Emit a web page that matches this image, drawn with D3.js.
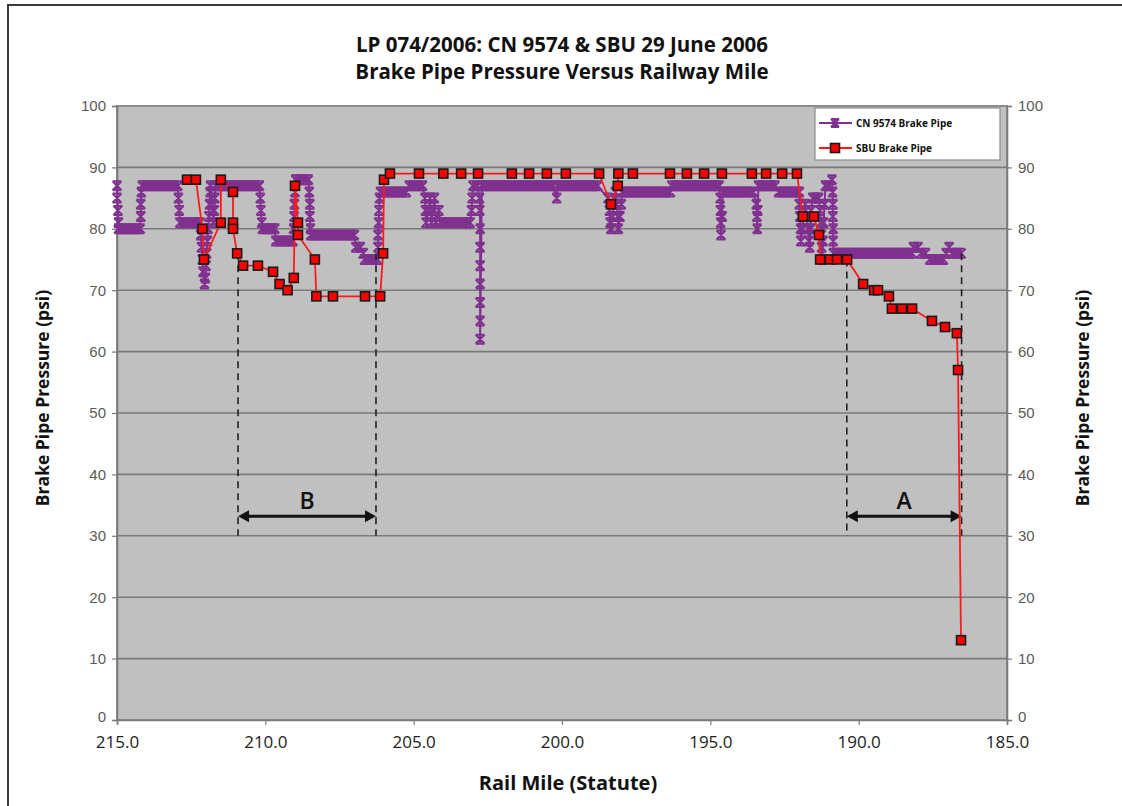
<!DOCTYPE html>
<html>
<head>
<meta charset="utf-8">
<script src="https://cdn.jsdelivr.net/npm/d3@7/dist/d3.min.js"></script>
<style>
  html, body { margin: 0; padding: 0; background: #fff; }
  svg { display: block; }
  .ytick text { font-family: "Liberation Sans", Arial, sans-serif; font-size: 15px; fill: #5a5a5a; }
  .xtick text { font-family: "Open Sans", sans-serif; font-size: 17px; fill: #222; }
  .ttl { font-family: "Open Sans", sans-serif; font-weight: bold; fill: #111; }
</style>
</head>
<body>
<svg id="chart" width="1122" height="806"></svg>
<script>
(function(){
  var titleLines = ['LP 074/2006: CN 9574 & SBU 29 June 2006', 'Brake Pipe Pressure Versus Railway Mile'];
  var xTicks = [215, 210, 205, 200, 195, 190, 185];
  var yTicks = [0, 10, 20, 30, 40, 50, 60, 70, 80, 90, 100];
  var seriesNames = ['CN 9574 Brake Pipe', 'SBU Brake Pipe'];

  // SBU brake pipe readings [mile, psi]
  var sbu = [
    [212.64,88],[212.34,88],[212.12,80],[212.07,75],[211.5,81],[211.5,88],[211.09,86],[211.09,81],
    [211.09,80],[210.95,76],[210.75,74],[210.25,74],[209.74,73],[209.52,71],[209.25,70],[209.04,72],
    [209.0,87],[208.9,81],[208.9,79],[208.33,75],[208.28,69],[207.72,69],[206.64,69],[206.13,69],
    [206.03,76],[206.0,88],[205.8,89],[204.82,89],[204.0,89],[203.4,89],[202.83,89],[201.69,89],
    [201.11,89],[200.51,89],[199.87,89],[198.75,89],[198.35,84],[198.12,87],[198.1,89],[197.61,89],
    [196.36,89],[195.79,89],[195.21,89],[194.61,89],[193.6,89],[193.12,89],[192.58,89],[192.08,89],
    [191.88,82],[191.51,82],[191.34,79],[191.3,75],[190.97,75],[190.73,75],[190.39,75],[189.85,71],
    [189.48,70],[189.35,70],[188.98,69],[188.88,67],[188.54,67],[188.2,67],[187.53,65],[187.09,64],
    [186.69,63],[186.65,57],[186.55,13]
  ];

  // CN 9574 brake pipe readings [mile, psi]
  var cn = [
    [215.0,87],[215.0,85],[214.97,83],[214.95,81],[214.95,80],[214.8,80],[214.65,80],[214.5,80],[214.35,80],[214.22,80],
    [214.2,82],[214.2,84],[214.18,86],[214.15,87],[214.0,87],[213.85,87],[213.7,87],[213.55,87],[213.4,87],[213.25,87],
    [213.1,87],[212.95,87],[212.93,85],[212.9,83],[212.88,81],[212.75,81],[212.6,81],[212.45,81],[212.3,81],[212.2,81],
    [212.18,79],[212.15,77],[212.12,75],[212.1,73],[212.05,71],[212.02,72],[212.0,74],[211.98,76],[211.95,78],[211.93,80],
    [211.9,82],[211.88,84],[211.86,86],[211.85,87],[211.8,85],[211.78,83],[211.75,81],[211.72,83],[211.7,85],[211.68,87],
    [211.55,87],[211.4,87],[211.25,87],[211.1,87],[210.95,87],[210.8,87],[210.65,87],[210.5,87],[210.35,87],[210.2,87],
    [210.17,85],[210.15,83],[210.12,81],[210.1,80],[209.95,80],[209.8,80],[209.68,80],[209.65,78],[209.5,78],[209.35,78],
    [209.2,78],[209.07,78],[209.05,80],[209.03,82],[209.02,84],[209.0,86],[208.98,88],[208.85,88],[208.7,88],[208.55,88],
    [208.52,86],[208.5,84],[208.5,82],[208.48,80],[208.47,79],[208.35,79],[208.2,79],[208.05,79],[207.9,79],[207.75,79],
    [207.6,79],[207.45,79],[207.3,79],[207.15,79],[207.0,79],[206.95,77],[206.8,77],[206.7,76],[206.65,75],[206.5,75],
    [206.35,75],[206.22,75],[206.2,77],[206.2,79],[206.18,81],[206.17,83],[206.15,85],[206.12,86],[206.0,86],[205.85,86],
    [205.7,86],[205.55,86],[205.4,86],[205.25,86],[205.15,87],[205.0,87],[204.85,87],[204.7,87],[204.62,85],[204.6,83],
    [204.58,81],[204.5,83],[204.45,85],[204.4,81],[204.35,83],[204.3,85],[204.25,81],[204.15,83],[204.1,81],[203.95,81],
    [203.8,81],[203.65,81],[203.5,81],[203.35,81],[203.2,81],[203.1,81],[203.05,83],[203.03,85],[203.0,87],[202.85,87],
    [202.78,85],[202.77,83],[202.76,80],[202.76,77],[202.76,74],[202.76,71],[202.76,68],[202.76,65],[202.76,62],[202.7,87],
    [202.55,87],[202.4,87],[202.25,87],[202.1,87],[201.95,87],[201.8,87],[201.65,87],[201.5,87],[201.35,87],[201.2,87],
    [201.05,87],[200.9,87],[200.75,87],[200.6,87],[200.45,87],[200.3,87],[200.18,85],[200.15,87],[200.0,87],[199.85,87],
    [199.7,87],[199.55,87],[199.4,87],[199.25,87],[199.1,87],[198.95,87],[198.8,87],[198.45,85],[198.4,83],[198.38,81],
    [198.35,80],[198.3,82],[198.25,84],[198.2,86],[198.15,84],[198.12,82],[198.1,80],[198.05,82],[198.0,84],[197.98,86],
    [197.85,86],[197.7,86],[197.55,86],[197.4,86],[197.25,86],[197.1,86],[196.95,86],[196.8,86],[196.65,86],[196.5,86],
    [196.35,86],[196.3,87],[196.15,87],[196.0,87],[195.85,87],[195.7,87],[195.55,87],[195.4,87],[195.25,87],[195.1,87],
    [194.95,87],[194.8,87],[194.7,87],[194.67,85],[194.66,83],[194.65,81],[194.64,79],[194.6,82],[194.58,86],[194.45,86],
    [194.3,86],[194.15,86],[194.0,86],[193.85,86],[193.7,86],[193.55,86],[193.45,84],[193.43,82],[193.42,80],[193.4,83],
    [193.38,87],[193.25,87],[193.1,87],[192.95,87],[192.82,87],[192.7,86],[192.55,86],[192.4,86],[192.25,86],[192.1,86],
    [192.0,86],[192.0,84],[191.98,82],[191.96,80],[191.95,78],[191.9,80],[191.85,82],[191.8,84],[191.75,82],[191.7,80],
    [191.68,78],[191.65,77],[191.62,80],[191.6,83],[191.55,85],[191.45,85],[191.35,85],[191.3,83],[191.28,81],[191.26,79],
    [191.25,77],[191.23,75],[191.2,78],[191.18,81],[191.15,84],[191.12,87],[191.0,87],[190.9,88],[190.88,86],[190.87,84],
    [190.87,82],[190.86,80],[190.86,78],[190.85,76],[190.7,76],[190.55,76],[190.4,76],[190.25,76],[190.1,76],[189.95,76],
    [189.8,76],[189.65,76],[189.5,76],[189.35,76],[189.2,76],[189.05,76],[188.9,76],[188.75,76],[188.6,76],[188.45,76],
    [188.3,76],[188.2,76],[188.15,77],[188.0,77],[187.9,76],[187.75,76],[187.6,75],[187.45,75],[187.3,75],[187.15,75],
    [187.05,76],[186.95,77],[186.85,76],[186.7,76],[186.55,76]
  ];

  // annotated spans: label, from mile, to mile
  var spans = [['B', 210.92, 206.27], ['A', 190.4, 186.53]];
  var spanTop = [[76, 76], [75, 76]];

  var svg = d3.select('#chart');
  var W = 1122, H = 806;
  var left = 117, right = 1007, top = 106, bottom = 720;

  var x = d3.scaleLinear().domain([215, 185]).range([left, right]);
  var y = d3.scaleLinear().domain([0, 100]).range([bottom, top]);

  svg.append('rect').attr('width', W).attr('height', H).attr('fill', '#fff');
  svg.append('rect').attr('x', 8).attr('y', 5).attr('width', 1140).attr('height', 830)
    .attr('fill', 'none').attr('stroke', '#3a3a3a').attr('stroke-width', 2);

  // plot area
  svg.append('rect').attr('x', left).attr('y', top).attr('width', right - left).attr('height', bottom - top)
    .attr('fill', '#c0c0c0').attr('stroke', '#8c8c8c').attr('stroke-width', 2);

  // gridlines
  svg.append('g').selectAll('line').data(yTicks.slice(1, -1)).enter().append('line')
    .attr('x1', left).attr('x2', right).attr('y1', function(d){ return y(d); }).attr('y2', function(d){ return y(d); })
    .attr('stroke', '#7a7a7a').attr('stroke-width', 1.6);

  // axes
  var yl = svg.append('g').attr('class', 'ytick').attr('transform', 'translate(' + left + ',0)')
    .call(d3.axisLeft(y).tickValues(yTicks).tickSize(5).tickPadding(6).tickFormat(d3.format('d')));
  var yr = svg.append('g').attr('class', 'ytick').attr('transform', 'translate(' + right + ',0)')
    .call(d3.axisRight(y).tickValues(yTicks).tickSize(5).tickPadding(6).tickFormat(d3.format('d')));
  var xa = svg.append('g').attr('class', 'xtick').attr('transform', 'translate(0,' + bottom + ')')
    .call(d3.axisBottom(x).tickValues(xTicks).tickSize(5).tickPadding(11).tickFormat(d3.format('.1f')));
  [yl, yr, xa].forEach(function(g){
    g.select('.domain').attr('stroke', '#7a7a7a').attr('stroke-width', 1.6);
    g.selectAll('.tick line').attr('stroke', '#7a7a7a').attr('stroke-width', 1.2);
  });
  // nudge the zero labels up a bit so they clear the mile labels
  yl.selectAll('.tick text').filter(function(d){ return d === 0; }).attr('dy', '0.1em');
  yr.selectAll('.tick text').filter(function(d){ return d === 0; }).attr('dy', '0.1em');

  // titles
  svg.append('text').attr('class', 'ttl').attr('x', 562).attr('y', 52).attr('text-anchor', 'middle')
    .attr('font-size', 20.5).text(titleLines[0]);
  svg.append('text').attr('class', 'ttl').attr('x', 562).attr('y', 79).attr('text-anchor', 'middle')
    .attr('font-size', 20.5).text(titleLines[1]);
  svg.append('text').attr('class', 'ttl').attr('x', 568).attr('y', 790).attr('text-anchor', 'middle')
    .attr('font-size', 20).text('Rail Mile (Statute)');
  svg.append('text').attr('class', 'ttl').attr('transform', 'translate(49,398) rotate(-90)').attr('text-anchor', 'middle')
    .attr('font-size', 17.5).text('Brake Pipe Pressure (psi)');
  svg.append('text').attr('class', 'ttl').attr('transform', 'translate(1089,398) rotate(-90)').attr('text-anchor', 'middle')
    .attr('font-size', 17.5).text('Brake Pipe Pressure (psi)');

  var purple = '#80308f', red = '#ff1a1a';
  var line = d3.line().x(function(d){ return x(d[0]); }).y(function(d){ return y(d[1]); });

  function star(g, cx, cy, s) {
    g.append('path')
      .attr('d', 'M' + (cx - s) + ',' + (cy - s) + 'L' + (cx + s) + ',' + (cy + s) +
        'M' + (cx - s) + ',' + (cy + s) + 'L' + (cx + s) + ',' + (cy - s) +
        'M' + cx + ',' + (cy - s - 1) + 'L' + cx + ',' + (cy + s + 1) +
        'M' + (cx - s) + ',' + (cy - s) + 'L' + (cx + s) + ',' + (cy - s) +
        'M' + (cx - s) + ',' + (cy + s) + 'L' + (cx + s) + ',' + (cy + s))
      .attr('stroke', purple).attr('stroke-width', 2).attr('fill', 'none');
  }

  // CN series
  var gcn = svg.append('g');
  gcn.append('path').datum(cn).attr('d', line).attr('fill', 'none').attr('stroke', purple).attr('stroke-width', 2);
  cn.forEach(function(d){ star(gcn, x(d[0]), y(d[1]), 4.5); });

  // dashed span markers
  var ga = svg.append('g');
  spans.forEach(function(s, i){
    [s[1], s[2]].forEach(function(m, j){
      ga.append('line').attr('x1', x(m)).attr('x2', x(m)).attr('y1', y(spanTop[i][j])).attr('y2', y(30))
        .attr('stroke', '#222').attr('stroke-width', 1.6).attr('stroke-dasharray', '7,5');
    });
    var x1 = x(s[1]), x2 = x(s[2]), ya = y(33.2);
    ga.append('line').attr('x1', x1 + 8).attr('x2', x2 - 8).attr('y1', ya).attr('y2', ya)
      .attr('stroke', '#111').attr('stroke-width', 3);
    ga.append('path').attr('d', 'M' + x1 + ',' + ya + 'L' + (x1 + 11) + ',' + (ya - 6) + 'L' + (x1 + 11) + ',' + (ya + 6) + 'Z').attr('fill', '#111');
    ga.append('path').attr('d', 'M' + x2 + ',' + ya + 'L' + (x2 - 11) + ',' + (ya - 6) + 'L' + (x2 - 11) + ',' + (ya + 6) + 'Z').attr('fill', '#111');
    ga.append('text').attr('x', (x1 + x2) / 2).attr('y', ya - 7).attr('text-anchor', 'middle')
      .attr('font-family', '"Open Sans", sans-serif').attr('font-weight', 600).attr('font-size', 23).attr('fill', '#111').text(s[0]);
  });

  // SBU series
  var gs = svg.append('g');
  gs.append('path').datum(sbu).attr('d', line).attr('fill', 'none').attr('stroke', red).attr('stroke-width', 1.8);
  gs.selectAll('rect').data(sbu).enter().append('rect')
    .attr('x', function(d){ return x(d[0]) - 4.5; }).attr('y', function(d){ return y(d[1]) - 4.5; })
    .attr('width', 9).attr('height', 9).attr('fill', '#ff0000').attr('stroke', '#1a1a1a').attr('stroke-width', 1.6);

  // legend
  var lg = svg.append('g').attr('transform', 'translate(815,108)');
  lg.append('rect').attr('width', 185).attr('height', 52).attr('fill', '#fff').attr('stroke', '#8c8c8c').attr('stroke-width', 1.2);
  lg.append('line').attr('x1', 4).attr('x2', 37).attr('y1', 15).attr('y2', 15).attr('stroke', purple).attr('stroke-width', 2);
  star(lg, 20, 15, 4);
  lg.append('line').attr('x1', 4).attr('x2', 37).attr('y1', 40).attr('y2', 40).attr('stroke', red).attr('stroke-width', 1.8);
  lg.append('rect').attr('x', 15.5).attr('y', 35.5).attr('width', 9).attr('height', 9).attr('fill', '#ff0000').attr('stroke', '#1a1a1a').attr('stroke-width', 1.6);
  seriesNames.forEach(function(n, i){
    lg.append('text').attr('x', 41).attr('y', 19 + i * 25).attr('font-family', '"Open Sans", sans-serif')
      .attr('font-weight', 'bold').attr('font-size', 10).attr('fill', '#111').text(n);
  });
})();
</script>
</body>
</html>
